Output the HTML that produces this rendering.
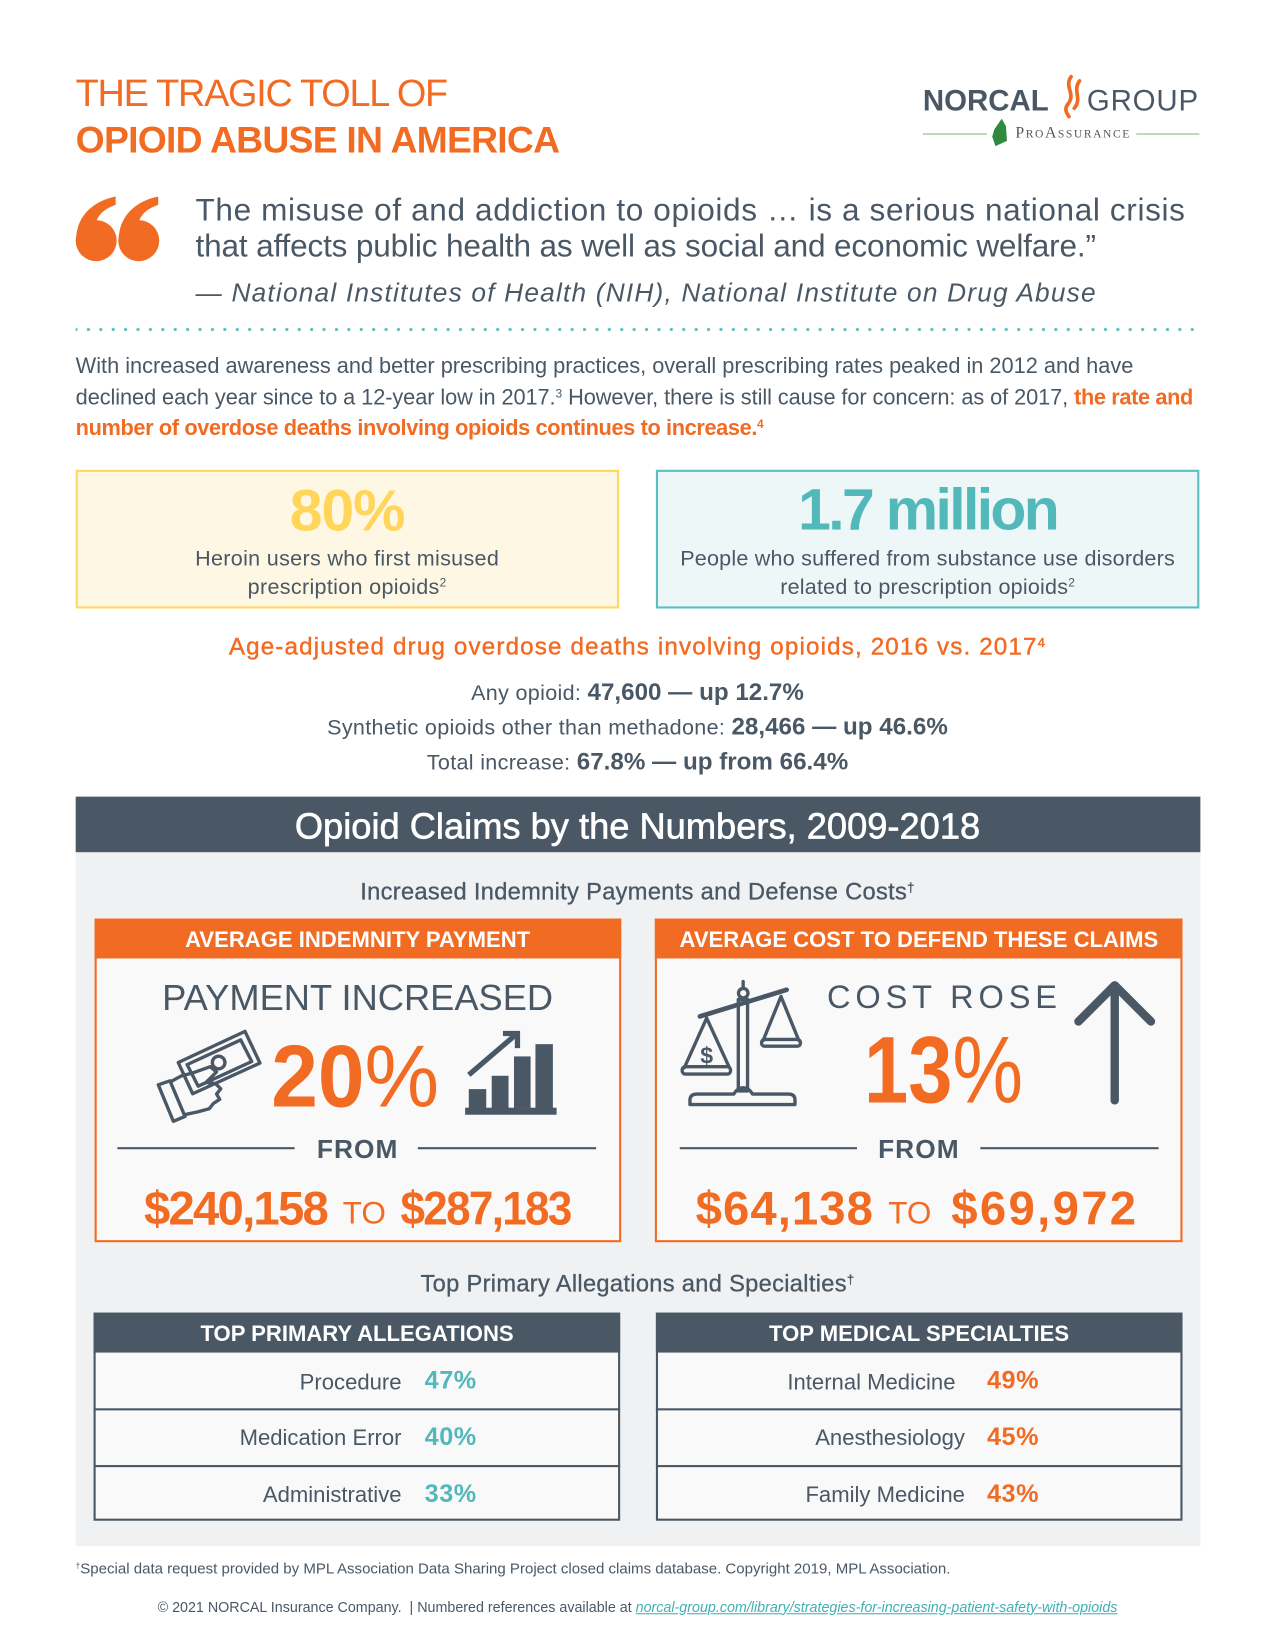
<!DOCTYPE html>
<html><head><meta charset="utf-8">
<style>
html,body{margin:0;padding:0;background:#fff;}
body{width:1275px;height:1650px;overflow:hidden;position:relative;}
#p{position:absolute;left:0;top:0;width:1213px;height:1570px;transform:scale(1.05112,1.05096);transform-origin:0 0;font-family:"Liberation Sans",Arial,sans-serif;color:#4a5866;}
.t{position:absolute;white-space:nowrap;line-height:1;}
.c{left:0;width:1213px;text-align:center;}
.o{color:#f26b22;}
.b{font-weight:bold;}
sup{font-size:0.55em;vertical-align:0.6em;line-height:0;}
.box{position:absolute;box-sizing:border-box;}
</style></head><body>
<div id="p">
<!-- backgrounds -->
<div class="box" style="left:72px;top:446.5px;width:516.5px;height:132.2px;border:2px solid #ffd85e;background:#fef7e3;"></div>
<div class="box" style="left:624px;top:446.5px;width:517px;height:132.2px;border:2px solid #5bbfc0;background:#eef7f7;"></div>
<div class="box" style="left:72px;top:758px;width:1069.5px;height:53px;background:#4a5866;"></div>
<div class="box" style="left:72px;top:811px;width:1069.5px;height:660px;background:#f0f1f2;"></div>
<div class="box" style="left:90px;top:873.6px;width:500.5px;height:308.6px;border:2px solid #f26b22;background:#f9f9fa;"></div>
<div class="box" style="left:90px;top:873.6px;width:500.5px;height:38px;background:#f26b22;"></div>
<div class="box" style="left:623.4px;top:873.6px;width:501.6px;height:308.6px;border:2px solid #f26b22;background:#f9f9fa;"></div>
<div class="box" style="left:623.4px;top:873.6px;width:501.6px;height:38px;background:#f26b22;"></div>
<div class="box" style="left:89.4px;top:1248.7px;width:500.6px;height:198px;border:2px solid #4a5866;background:#f9f9fa;"></div>
<div class="box" style="left:89.4px;top:1248.7px;width:500.6px;height:38px;background:#4a5866;"></div>
<div class="box" style="left:89.4px;top:1339.7px;width:500.6px;height:2px;background:#4a5866;"></div>
<div class="box" style="left:89.4px;top:1393.6px;width:500.6px;height:2px;background:#4a5866;"></div>
<div class="box" style="left:624px;top:1248.7px;width:500.7px;height:198px;border:2px solid #4a5866;background:#f9f9fa;"></div>
<div class="box" style="left:624px;top:1248.7px;width:500.7px;height:38px;background:#4a5866;"></div>
<div class="box" style="left:624px;top:1339.7px;width:500.7px;height:2px;background:#4a5866;"></div>
<div class="box" style="left:624px;top:1393.6px;width:500.7px;height:2px;background:#4a5866;"></div>

<svg style="position:absolute;left:0;top:0" width="1213" height="1570" viewBox="0 0 1213 1570">
<defs><pattern id="dots" x="0" y="310.5" width="11.8" height="6" patternUnits="userSpaceOnUse"><circle cx="1.5" cy="3" r="1.5" fill="#56bbbd"/></pattern></defs>
<rect x="72" y="310.5" width="1070" height="6" fill="url(#dots)"/>
<!-- logo marks -->
<g fill="none" stroke="#f26b22" stroke-width="3.5" stroke-linecap="round">
<path d="M1019,73 C1012,83 1024,89 1016,99 C1012,104 1015,108 1017,111"/>
<path d="M1027,77 C1020,87 1030,93 1022,103"/>
</g>
<line x1="878" y1="127.5" x2="939" y2="127.5" stroke="#8dc98a" stroke-width="1.2"/>
<line x1="1081" y1="127.5" x2="1141" y2="127.5" stroke="#8dc98a" stroke-width="1.2"/>
<path d="M946,123 L953,113 L957,120 L958,134 L947,139 L944,130 Z" fill="#2e8b3e"/>
<!-- quote marks -->
<g fill="#f26b22">
<circle cx="91.5" cy="229" r="19.5"/>
<path d="M72.5,229 C72,208 86,192 110,187 L110,195 C98,199 92,206 91,214 Z"/>
<circle cx="132" cy="229" r="19.5"/>
<path d="M113,229 C112.5,208 126.5,192 150.5,187 L150.5,195 C138.5,199 132.5,206 131.5,214 Z"/>
</g>
<!-- money hand -->
<g fill="none" stroke="#4a5866" stroke-width="3.2" stroke-linejoin="round">
<path d="M169.6,1011 L233.1,981.4 L247.3,1011.5 L183.3,1040.7 Z"/>
<path d="M178,1013 L229,989.5 L239.5,1010 L188.5,1033.5 Z"/>
<circle cx="208" cy="1011" r="6"/>
<path d="M150.6,1032.2 L161.7,1028.4 L176,1062.3 L164.9,1066.9 Z"/>
<path d="M161,1030 L172,1024 L183,1021 L200,1015 L206,1020 L196,1030 L205,1031 L210,1036 L206,1041 L209,1046 L203,1050 L199,1055 L188,1058 L174,1061"/>
</g>
<!-- chart icon -->
<g fill="#4a5866">
<rect x="446" y="1036.3" width="16.6" height="18"/>
<rect x="467.8" y="1023.6" width="16" height="30.7"/>
<rect x="489" y="1005.2" width="15.8" height="49"/>
<rect x="509.4" y="993.5" width="16.6" height="60.8"/>
<rect x="442.5" y="1054" width="87" height="6.7"/>
</g>
<g fill="none" stroke="#4a5866" stroke-width="5">
<line x1="446" y1="1022.7" x2="492" y2="983.4"/>
<polyline points="478.5,983.4 492.3,983.4 492.3,997.3"/>
</g>
<!-- scale icon -->
<g fill="none" stroke="#4a5866" stroke-width="3.2" stroke-linejoin="round" stroke-linecap="round">
<line x1="665.9" y1="967.1" x2="748.4" y2="941.8" stroke-width="4.5"/>
<circle cx="707.1" cy="945" r="4.5"/>
<line x1="707" y1="934" x2="707" y2="940.5"/>
<rect x="702.4" y="951" width="8.8" height="87"/>
<path d="M656.4,1051 L756.3,1051 L756.3,1046 Q756,1041 750,1041 L716,1041 Q712,1035 707,1035 Q702,1035 698,1041 L663,1041 Q657,1041 656.4,1046 Z"/>
<path d="M672.3,968.7 L651,1016 M672.3,968.7 L694,1016"/>
<rect x="649" y="1015" width="46" height="7" rx="3"/>
<path d="M743,948.2 L726,990 M743,948.2 L760,990"/>
<rect x="724.5" y="989" width="37" height="6.5" rx="3"/>
</g>
<text x="672.3" y="1012" font-family="Liberation Sans, sans-serif" font-weight="bold" font-size="22" fill="#4a5866" text-anchor="middle">$</text>
<!-- up arrow -->
<g fill="none" stroke="#4a5866" stroke-width="8" stroke-linecap="round" stroke-linejoin="round">
<path d="M1060.5,1047 L1060.5,939"/>
<path d="M1026,972 L1060.5,937.5 L1095,972"/>
</g>
<!-- FROM lines -->
<g stroke="#4a5866" stroke-width="2">
<line x1="111.7" y1="1092.5" x2="280.3" y2="1092.5"/>
<line x1="397.5" y1="1092.5" x2="567.1" y2="1092.5"/>
<line x1="646.7" y1="1092.5" x2="815.3" y2="1092.5"/>
<line x1="932.7" y1="1092.5" x2="1102.3" y2="1092.5"/>
</g>
</svg>

<!-- title -->
<div class="t o" style="left:72px;top:71px;font-size:36px;letter-spacing:-1.2px;">THE TRAGIC TOLL OF</div>
<div class="t o b" style="left:72px;top:116px;font-size:35.5px;letter-spacing:-0.72px;">OPIOID ABUSE IN AMERICA</div>
<!-- logo -->
<div class="t b" style="left:878px;top:81.6px;font-size:28px;color:#4a5866;">NORCAL</div>
<div class="t" style="left:1034px;top:81.6px;font-size:28px;letter-spacing:0.8px;color:#4a5866;">GROUP</div>
<div class="t" style="left:966px;top:119.9px;font-size:15px;font-family:'Liberation Serif',serif;font-variant:small-caps;letter-spacing:1.5px;color:#555;">ProAssurance</div>

<!-- quote -->
<div class="t" style="left:186px;top:185.5px;font-size:30px;letter-spacing:0.6px;">The misuse of and addiction to opioids … is a serious national crisis</div>
<div class="t" style="left:186px;top:220.4px;font-size:30px;letter-spacing:-0.15px;">that affects public health as well as social and economic welfare.”</div>
<div class="t" style="left:186px;top:267.4px;font-size:25px;letter-spacing:1.13px;font-style:italic;">— National Institutes of Health (NIH), National Institute on Drug Abuse</div>

<!-- paragraph -->
<div class="t" style="left:72px;top:339.3px;font-size:20.7px;">With increased awareness and better prescribing practices, overall prescribing rates peaked in 2012 and have</div>
<div class="t" style="left:72px;top:368.7px;font-size:20.7px;letter-spacing:-0.07px;">declined each year since to a 12-year low in 2017.<sup>3</sup> However, there is still cause for concern: as of 2017, <span class="o b" style="letter-spacing:-0.35px;">the rate and</span></div>
<div class="t o b" style="left:72px;top:397.9px;font-size:20.7px;letter-spacing:-0.35px;">number of overdose deaths involving opioids continues to increase.<sup>4</sup></div>

<!-- stat boxes -->
<div class="t b" style="left:72px;width:516.5px;text-align:center;top:457.5px;font-size:56px;color:#ffd55a;letter-spacing:-1px;">80%</div>
<div class="t" style="left:72px;width:516.5px;text-align:center;top:521.7px;font-size:20.5px;letter-spacing:0.3px;">Heroin users who first misused</div>
<div class="t" style="left:72px;width:516.5px;text-align:center;top:548.6px;font-size:20.5px;letter-spacing:0.3px;">prescription opioids<sup>2</sup></div>
<div class="t b" style="left:624px;width:517px;text-align:center;top:456.8px;font-size:56px;color:#52b8ba;letter-spacing:-2.5px;">1.7 million</div>
<div class="t" style="left:624px;width:517px;text-align:center;top:521.6px;font-size:20.5px;letter-spacing:0.2px;">People who suffered from substance use disorders</div>
<div class="t" style="left:624px;width:517px;text-align:center;top:548.6px;font-size:20.5px;letter-spacing:0.2px;">related to prescription opioids<sup>2</sup></div>

<!-- overdose stats -->
<div class="t c o" style="top:603.6px;font-size:23px;letter-spacing:1.1px;-webkit-text-stroke:0.4px #f26b22;">Age-adjusted drug overdose deaths involving opioids, 2016 vs. 2017<sup>4</sup></div>
<div class="t c" style="top:646.5px;font-size:23px;"><span style="font-size:20.5px;letter-spacing:0.3px;">Any opioid: </span><span class="b">47,600 — up 12.7%</span></div>
<div class="t c" style="top:679.7px;font-size:23px;"><span style="font-size:20.5px;letter-spacing:0.3px;">Synthetic opioids other than methadone: </span><span class="b">28,466 — up 46.6%</span></div>
<div class="t c" style="top:713px;font-size:23px;"><span style="font-size:20.5px;letter-spacing:0.3px;">Total increase: </span><span class="b">67.8% — up from 66.4%</span></div>

<!-- band -->
<div class="t c" style="top:770px;font-size:34.5px;color:#fff;-webkit-text-stroke:0.6px #fff;">Opioid Claims by the Numbers, 2009-2018</div>
<div class="t c" style="top:837.9px;font-size:22.5px;letter-spacing:0.3px;-webkit-text-stroke:0.3px #4a5866;">Increased Indemnity Payments and Defense Costs<sup>†</sup></div>

<!-- card 1 -->
<div class="t b" style="left:90px;width:500.5px;text-align:center;top:884.4px;font-size:21px;color:#fff;">AVERAGE INDEMNITY PAYMENT</div>
<div class="t" style="left:90px;width:500.5px;text-align:center;top:933.3px;font-size:34.5px;">PAYMENT INCREASED</div>
<div class="t o" style="left:258px;top:981.7px;font-size:84px;transform:scaleX(0.95);transform-origin:0 0;"><span class="b">20</span>%</div>
<div class="t b" style="left:90px;width:500.5px;text-align:center;top:1082.4px;font-size:25px;letter-spacing:1px;">FROM</div>
<div class="t o b" style="left:137px;top:1127.3px;font-size:45px;letter-spacing:-1.7px;">$240,158</div>
<div class="t o" style="left:326px;top:1140px;font-size:30px;">TO</div>
<div class="t o b" style="left:381px;top:1127.3px;font-size:45px;letter-spacing:-1.7px;transform:scaleX(0.93);transform-origin:0 0;">$287,183</div>

<!-- card 2 -->
<div class="t b" style="left:623.4px;width:501.6px;text-align:center;top:884.4px;font-size:21px;color:#fff;">AVERAGE COST TO DEFEND THESE CLAIMS</div>
<div class="t" style="left:786.8px;top:933.1px;font-size:31px;letter-spacing:4.6px;">COST ROSE</div>
<div class="t o" style="left:822px;top:974.1px;font-size:90px;transform:scaleX(0.84);transform-origin:0 0;"><span class="b">13</span>%</div>
<div class="t b" style="left:623.4px;width:501.6px;text-align:center;top:1082.4px;font-size:25px;letter-spacing:1px;">FROM</div>
<div class="t o b" style="left:661.8px;top:1127.3px;font-size:45px;letter-spacing:1px;">$64,138</div>
<div class="t o" style="left:845px;top:1140px;font-size:30px;">TO</div>
<div class="t o b" style="left:905px;top:1127.3px;font-size:45px;letter-spacing:2.2px;">$69,972</div>

<!-- allegations -->
<div class="t c" style="top:1211.3px;font-size:22.5px;letter-spacing:0.3px;-webkit-text-stroke:0.3px #4a5866;">Top Primary Allegations and Specialties<sup>†</sup></div>
<div class="t b" style="left:89.4px;width:500.6px;text-align:center;top:1258.5px;font-size:21px;color:#fff;">TOP PRIMARY ALLEGATIONS</div>
<div class="t b" style="left:624px;width:500.7px;text-align:center;top:1258.5px;font-size:21px;color:#fff;">TOP MEDICAL SPECIALTIES</div>

<div class="t" style="left:100px;width:282px;text-align:right;top:1304.5px;font-size:21px;">Procedure</div>
<div class="t" style="left:100px;width:282px;text-align:right;top:1358.4px;font-size:21px;">Medication Error</div>
<div class="t" style="left:100px;width:282px;text-align:right;top:1412.3px;font-size:21px;">Administrative</div>
<div class="t b" style="left:404px;top:1302px;font-size:24px;color:#52b8ba;letter-spacing:0.5px;">47%</div>
<div class="t b" style="left:404px;top:1355.9px;font-size:24px;color:#52b8ba;letter-spacing:0.5px;">40%</div>
<div class="t b" style="left:404px;top:1409.8px;font-size:24px;color:#52b8ba;letter-spacing:0.5px;">33%</div>

<div class="t" style="left:640px;width:269px;text-align:right;top:1304.5px;font-size:21px;">Internal Medicine</div>
<div class="t" style="left:640px;width:278px;text-align:right;top:1358.4px;font-size:21px;">Anesthesiology</div>
<div class="t" style="left:640px;width:278px;text-align:right;top:1412.3px;font-size:21px;">Family Medicine</div>
<div class="t b o" style="left:939px;top:1302px;font-size:24px;letter-spacing:0.5px;">49%</div>
<div class="t b o" style="left:939px;top:1355.9px;font-size:24px;letter-spacing:0.5px;">45%</div>
<div class="t b o" style="left:939px;top:1409.8px;font-size:24px;letter-spacing:0.5px;">43%</div>

<!-- footnotes -->
<div class="t" style="left:72px;top:1486.2px;font-size:14.3px;"><sup>†</sup>Special data request provided by MPL Association Data Sharing Project closed claims database. Copyright 2019, MPL Association.</div>
<div class="t c" style="top:1522.8px;font-size:13.6px;">© 2021 NORCAL Insurance Company.&nbsp; | Numbered references available at <span style="color:#3fb0b3;font-style:italic;text-decoration:underline;">norcal-group.com/library/strategies-for-increasing-patient-safety-with-opioids</span></div>
</div>
</body></html>
